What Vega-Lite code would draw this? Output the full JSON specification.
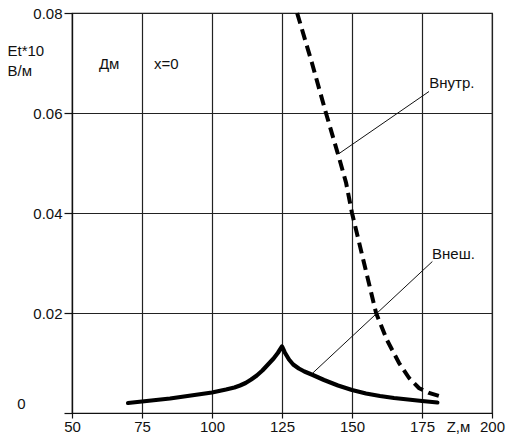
{
  "$schema": "https://vega.github.io/schema/vega-lite/v6.json",
  "width": 420,
  "height": 400,
  "autosize": "none",
  "padding": {"left": 72, "top": 13, "right": 16, "bottom": 29},
  "background": "white",
  "config": {
    "view": {"stroke": "#111", "strokeWidth": 1.2},
    "font": "Liberation Sans"
  },
  "datasets": {
    "curves": [
      {"z": 70, "e": 0.002, "s": "Внеш."},
      {"z": 75, "e": 0.0023, "s": "Внеш."},
      {"z": 80, "e": 0.0026, "s": "Внеш."},
      {"z": 85, "e": 0.0029, "s": "Внеш."},
      {"z": 90, "e": 0.0033, "s": "Внеш."},
      {"z": 95, "e": 0.0037, "s": "Внеш."},
      {"z": 100, "e": 0.0041, "s": "Внеш."},
      {"z": 105, "e": 0.0047, "s": "Внеш."},
      {"z": 108, "e": 0.0051, "s": "Внеш."},
      {"z": 110, "e": 0.0055, "s": "Внеш."},
      {"z": 112, "e": 0.006, "s": "Внеш."},
      {"z": 114, "e": 0.0067, "s": "Внеш."},
      {"z": 116, "e": 0.0075, "s": "Внеш."},
      {"z": 118, "e": 0.0085, "s": "Внеш."},
      {"z": 120, "e": 0.0097, "s": "Внеш."},
      {"z": 122, "e": 0.0109, "s": "Внеш."},
      {"z": 123.5, "e": 0.012, "s": "Внеш."},
      {"z": 125, "e": 0.0133, "s": "Внеш."},
      {"z": 126, "e": 0.0121, "s": "Внеш."},
      {"z": 127.5, "e": 0.0107, "s": "Внеш."},
      {"z": 129, "e": 0.0097, "s": "Внеш."},
      {"z": 131, "e": 0.0089, "s": "Внеш."},
      {"z": 133, "e": 0.0083, "s": "Внеш."},
      {"z": 136, "e": 0.0076, "s": "Внеш."},
      {"z": 140, "e": 0.0066, "s": "Внеш."},
      {"z": 145, "e": 0.0055, "s": "Внеш."},
      {"z": 150, "e": 0.0046, "s": "Внеш."},
      {"z": 155, "e": 0.0039, "s": "Внеш."},
      {"z": 160, "e": 0.0034, "s": "Внеш."},
      {"z": 165, "e": 0.003, "s": "Внеш."},
      {"z": 170, "e": 0.0027, "s": "Внеш."},
      {"z": 175, "e": 0.0024, "s": "Внеш."},
      {"z": 180.5, "e": 0.0021, "s": "Внеш."},
      {"z": 130.4, "e": 0.08, "s": "Внутр."},
      {"z": 135.7, "e": 0.07, "s": "Внутр."},
      {"z": 140.7, "e": 0.06, "s": "Внутр."},
      {"z": 145.4, "e": 0.051, "s": "Внутр."},
      {"z": 147.9, "e": 0.046, "s": "Внутр."},
      {"z": 150, "e": 0.04, "s": "Внутр."},
      {"z": 154.3, "e": 0.03, "s": "Внутр."},
      {"z": 158.6, "e": 0.02, "s": "Внутр."},
      {"z": 162.5, "e": 0.0146, "s": "Внутр."},
      {"z": 166.8, "e": 0.01, "s": "Внутр."},
      {"z": 170.4, "e": 0.007, "s": "Внутр."},
      {"z": 173.9, "e": 0.005, "s": "Внутр."},
      {"z": 177.5, "e": 0.004, "s": "Внутр."},
      {"z": 181.1, "e": 0.0034, "s": "Внутр."}
    ],
    "pointers": [
      {"z": 145.4, "e": 0.0519, "z2": 177.5, "e2": 0.0643},
      {"z": 135.8, "e": 0.0079, "z2": 178.7, "e2": 0.0303}
    ],
    "labels": [
      {"z": 59.6, "e": 0.0698, "t": "Дм"},
      {"z": 79.3, "e": 0.0698, "t": "x=0"},
      {"z": 177.6, "e": 0.066, "t": "Внутр."},
      {"z": 178.6, "e": 0.0319, "t": "Внеш."}
    ]
  },
  "layer": [
    {
      "data": {"name": "curves"},
      "transform": [{"filter": "datum.s === 'Внеш.'"}],
      "mark": {"type": "line", "color": "#000", "strokeWidth": 4.2, "strokeJoin": "round", "strokeCap": "round"},
      "encoding": {
        "x": {
          "field": "z", "type": "quantitative",
          "scale": {"domain": [50, 200], "nice": false, "zero": false},
          "axis": {
            "values": [50, 75, 100, 125, 150, 175, 200],
            "grid": true, "gridColor": "#222", "gridWidth": 1.2,
            "domainColor": "#111", "domainWidth": 1.2,
            "tickColor": "#111", "tickSize": 5, "tickWidth": 1.2,
            "labelFont": "Liberation Sans", "labelFontSize": 15, "labelColor": "#111",
            "labelPadding": 1, "labelFlush": false, "labelOverlap": false,
            "title": "Z,м", "titleX": 386, "titleY": 6,
            "titleAlign": "center", "titleBaseline": "top",
            "titleFont": "Liberation Sans", "titleFontSize": 15, "titleFontWeight": "normal", "titleColor": "#111"
          }
        },
        "y": {
          "field": "e", "type": "quantitative",
          "scale": {"domain": [0, 0.08], "nice": false},
          "axis": {
            "values": [0, 0.02, 0.04, 0.06, 0.08],
            "labelExpr": "datum.value === 0 ? '0' : format(datum.value, '.2f')",
            "grid": true, "gridColor": "#222", "gridWidth": 1.2,
            "domainColor": "#111", "domainWidth": 1.2,
            "tickColor": "#111", "tickSize": 8, "tickWidth": 1.2,
            "labelFont": "Liberation Sans", "labelFontSize": 15, "labelColor": "#111",
            "labelPadding": {"condition": {"test": "datum.value === 0", "value": 39}, "value": 2},
            "labelOffset": {"condition": {"test": "datum.value === 0", "value": -10}, "value": 0},
            "labelOverlap": false, "labelFlush": false,
            "title": ["Et*10", "В/м"], "titleAngle": 0, "titleAlign": "left", "titleBaseline": "top",
            "titleX": -65, "titleY": 30, "titleLineHeight": 20,
            "titleFont": "Liberation Sans", "titleFontSize": 15, "titleFontWeight": "normal", "titleColor": "#111"
          }
        }
      }
    },
    {
      "data": {"name": "curves"},
      "transform": [{"filter": "datum.s === 'Внутр.'"}],
      "mark": {"type": "line", "color": "#000", "strokeWidth": 4, "strokeDash": [11, 6], "strokeCap": "butt"},
      "encoding": {
        "x": {"field": "z", "type": "quantitative"},
        "y": {"field": "e", "type": "quantitative"}
      }
    },
    {
      "data": {"name": "pointers"},
      "mark": {"type": "rule", "color": "#111", "strokeWidth": 1},
      "encoding": {
        "x": {"field": "z", "type": "quantitative"},
        "y": {"field": "e", "type": "quantitative"},
        "x2": {"field": "z2"},
        "y2": {"field": "e2"}
      }
    },
    {
      "data": {"name": "labels"},
      "mark": {"type": "text", "align": "left", "baseline": "middle", "font": "Liberation Sans", "fontSize": 15, "color": "#111"},
      "encoding": {
        "x": {"field": "z", "type": "quantitative"},
        "y": {"field": "e", "type": "quantitative"},
        "text": {"field": "t"}
      }
    }
  ]
}
